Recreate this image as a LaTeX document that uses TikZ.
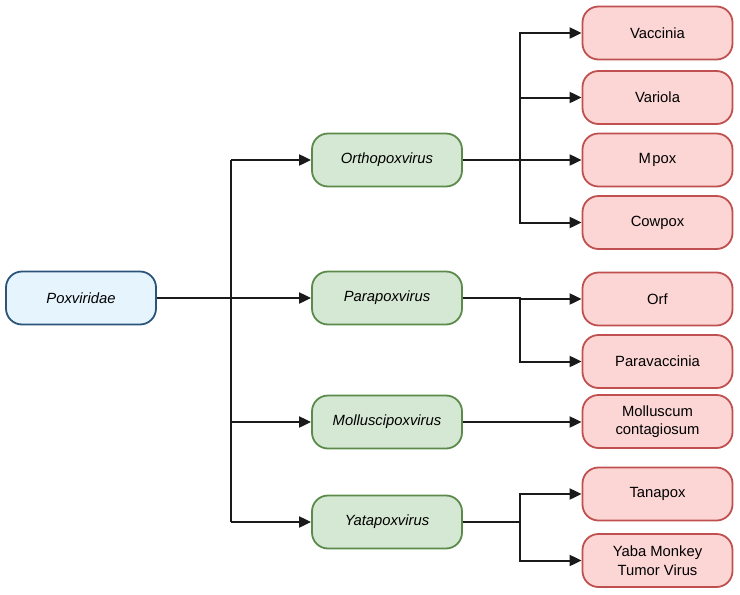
\documentclass[tikz,border=0pt]{standalone}
\usepackage{fontspec}
\setmainfont{Liberation Sans}
\usetikzlibrary{arrows.meta}
\definecolor{bfill}{HTML}{E6F4FD}
\definecolor{bline}{HTML}{2A5578}
\definecolor{gfill}{HTML}{D5E8D3}
\definecolor{gline}{HTML}{5B8A4B}
\definecolor{pfill}{HTML}{FCD5D5}
\definecolor{pline}{HTML}{C0504F}
\definecolor{ln}{HTML}{1A1A1A}
\tikzset{
  box/.style={rounded corners=16pt, line width=1.8pt, minimum width=150pt, minimum height=53pt, align=center, font=\fontsize{14.8}{18.5}\selectfont, inner sep=2pt},
  famb/.style={box, draw=bline, fill=bfill, font=\fontsize{14.8}{18.5}\selectfont\itshape},
  genb/.style={box, draw=gline, fill=gfill, font=\fontsize{14.8}{18.5}\selectfont\itshape},
  spb/.style={box, draw=pline, fill=pfill},
  conn/.style={draw=ln, line width=2pt},
  arr/.style={conn, -{Triangle[length=12pt,width=11pt]}},
}
\begin{document}
\begin{tikzpicture}[x=1pt,y=-1pt]
\useasboundingbox (0,0) rectangle (740,595);
\node[famb] (pox) at (81,298) {Poxviridae};
\node[genb] (ortho) at (387,160) {Orthopoxvirus};
\node[genb] (para) at (387,298) {Parapoxvirus};
\node[genb] (moll) at (387,422) {Molluscipoxvirus};
\node[genb] (yata) at (387,522) {Yatapoxvirus};
\node[spb] (vac) at (657.5,33) {Vaccinia};
\node[spb] (var) at (657.5,97.5) {Variola};
\node[spb] (mpox) at (657.5,160) {M\kern1.5pt pox};
\node[spb] (cow) at (657.5,222.5) {Cowpox};
\node[spb] (orf) at (657.5,299) {Orf};
\node[spb] (pvac) at (657.5,361.5) {Paravaccinia};
\node[spb] (mcon) at (657.5,421.5) {Molluscum\\contagiosum};
\node[spb] (tana) at (657.5,494) {Tanapox};
\node[spb] (yaba) at (657.5,560.5) {Yaba Monkey\\Tumor Virus};
% family trunk
\coordinate (t1) at (231,160);
\coordinate (t4) at (231,522);
\draw[conn] (t1) -- (t4);
\draw[arr] (pox.east) -- (para.west);
\draw[arr] (t1) -- (ortho.west);
\draw[arr] (t1 |- moll.west) -- (moll.west);
\draw[arr] (t4) -- (yata.west);
% orthopox
\coordinate (oj) at (520,160);
\draw[arr] (ortho.east) -- (mpox.west);
\draw[arr] (oj) |- (vac.west);
\draw[arr] (oj) |- (var.west);
\draw[arr] (oj) |- (cow.west);
% parapox
\coordinate (pj) at (520,298);
\draw[arr] (para.east) -- (pj) |- (orf.west);
\draw[arr] (pj) |- (pvac.west);
% mollusc
\draw[arr] (moll.east) -- (mcon.west |- moll.east);
% yata
\coordinate (yj) at (520,522);
\draw[conn] (yata.east) -- (yj);
\draw[arr] (yj) |- (tana.west);
\draw[arr] (yj) |- (yaba.west);
\end{tikzpicture}
\end{document}
